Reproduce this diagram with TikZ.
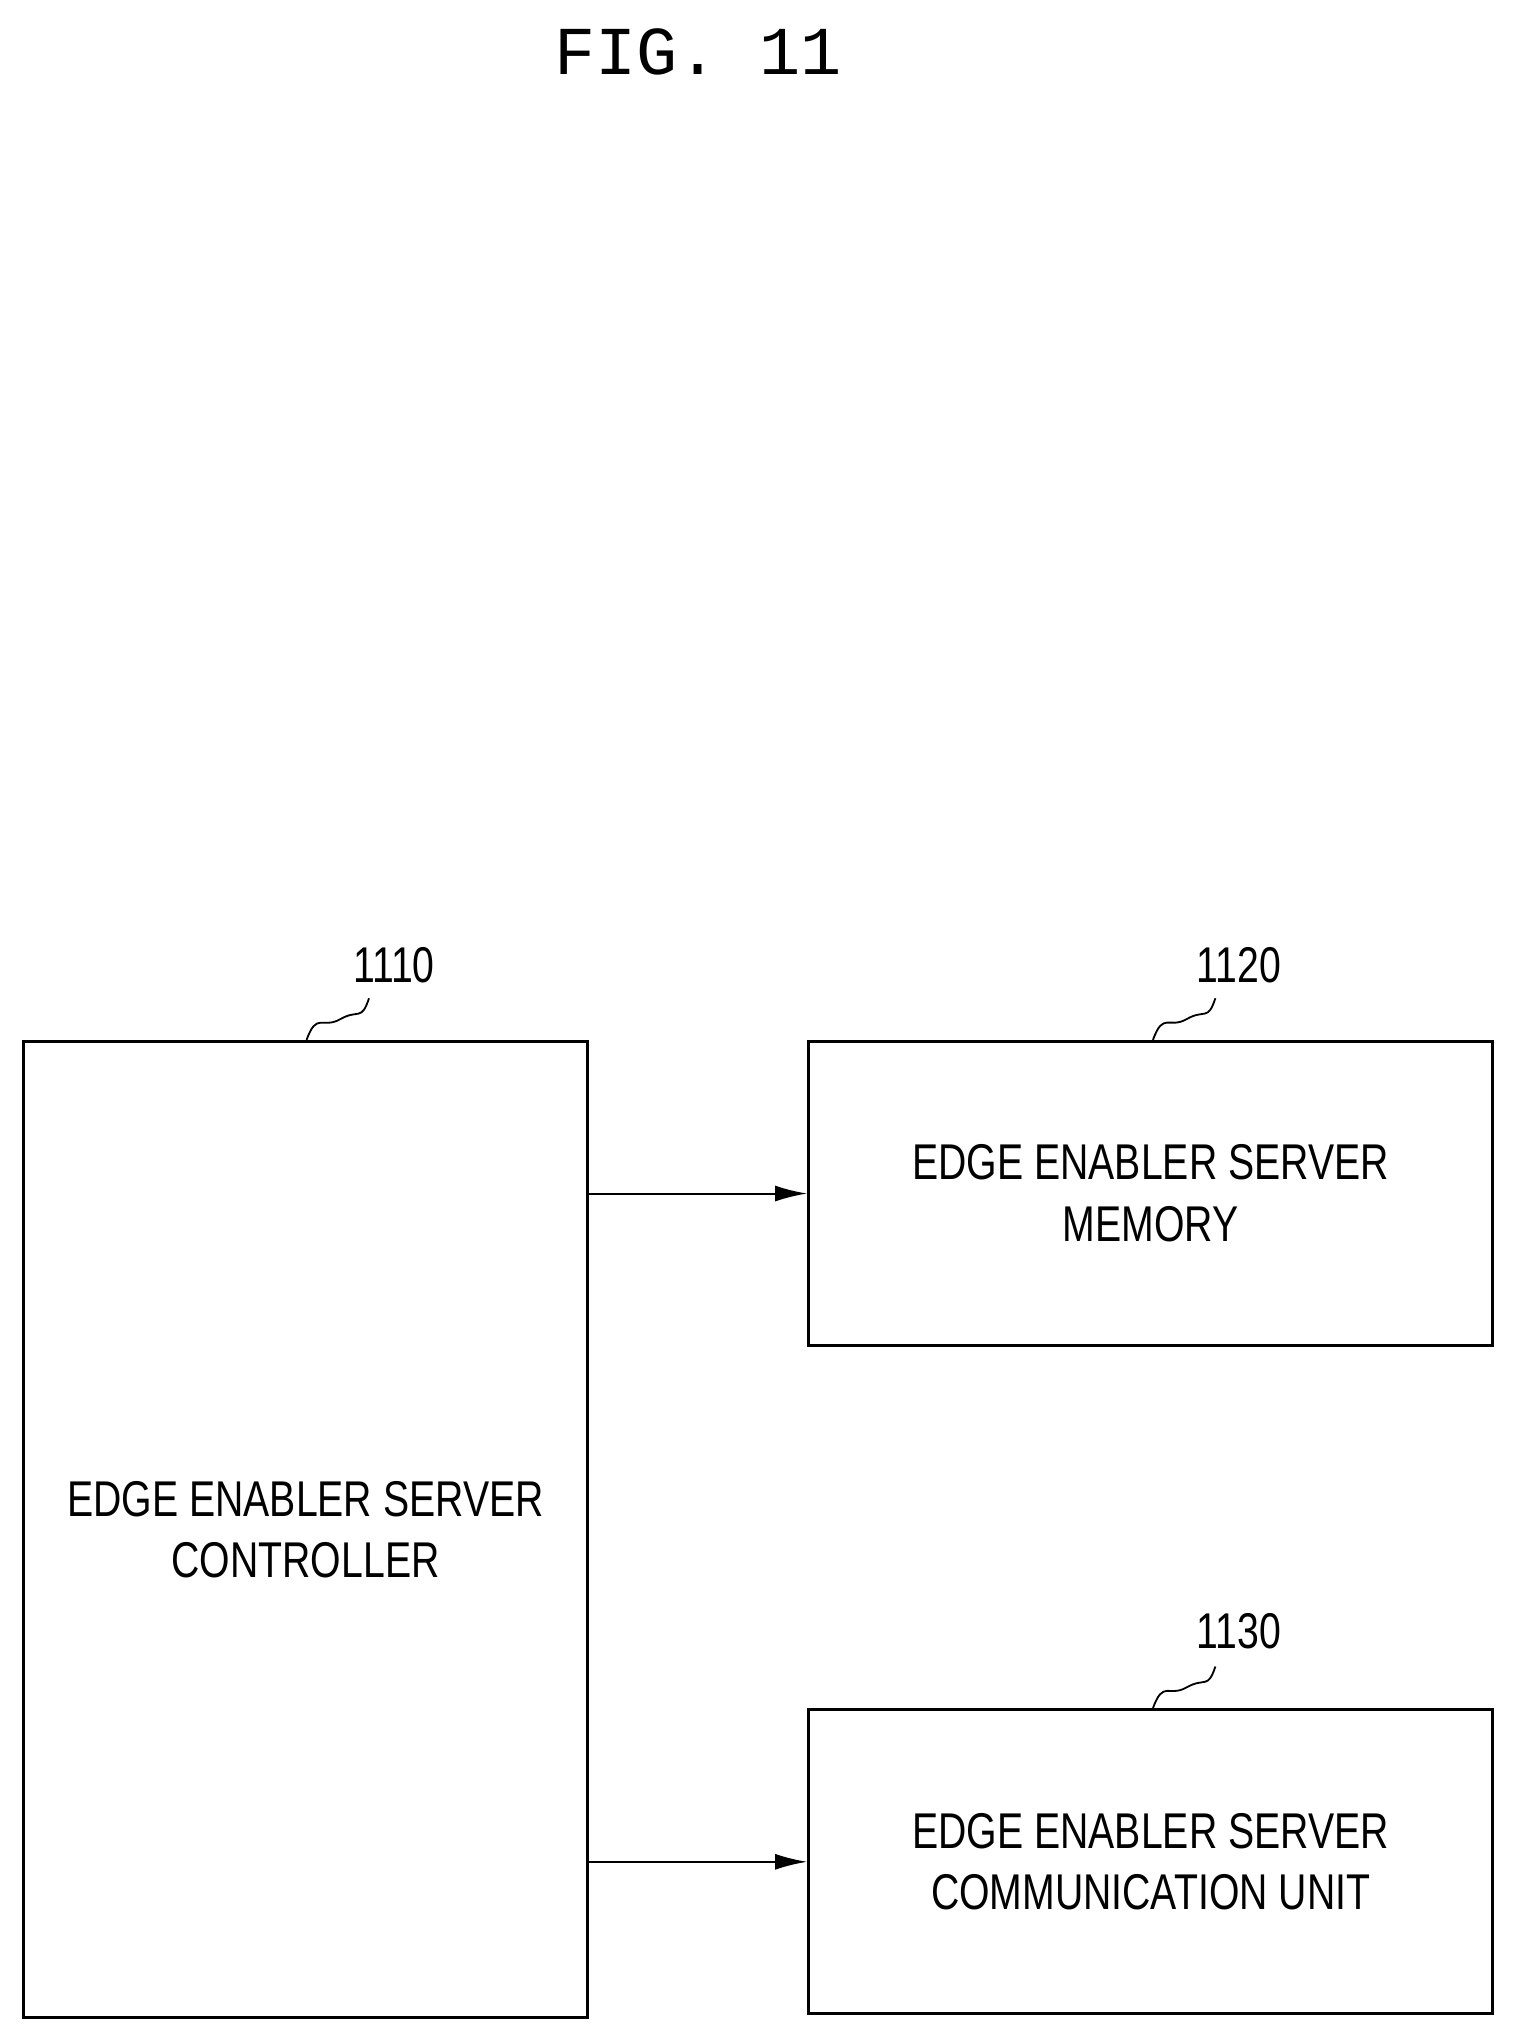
\documentclass[tikz,border=0pt]{standalone}
\usepackage{fontspec}
\setmainfont{Liberation Sans}
\newfontfamily\titlefont{Liberation Mono}
\usetikzlibrary{positioning,arrows.meta}
\begin{document}
\begin{tikzpicture}[
            >=latex,
            x=0.02cm, y=-0.02cm,
            font=\fontsize{22}{27}\selectfont,
            blockbox/.style={draw, line width=1.4pt, rectangle, inner sep=0pt, align=center},
            refnum/.style={inner sep=2pt},
            leader/.style={line width=0.8pt},
            link/.style={->, line width=0.9pt, >={Latex[length=14pt,width=7pt]}}
        ]
		\useasboundingbox (0,0) rectangle (1164,1566);
		
		%Title
		\node[font=\titlefont\fontsize{30}{34}\selectfont] (title) at (537,40) {FIG. 11};
		
		%Blocks
		\node[blockbox, minimum width=8.68cm, minimum height=15.02cm] (ctrl) at (235,1176.5) {\scalebox{0.78}[1]{EDGE ENABLER SERVER}\\\scalebox{0.78}[1]{CONTROLLER}};
		\node[blockbox, minimum width=10.52cm, minimum height=4.68cm] (mem) at (885,918) {\scalebox{0.78}[1]{EDGE ENABLER SERVER}\\\scalebox{0.78}[1]{MEMORY}};
		\node[blockbox, minimum width=10.52cm, minimum height=4.68cm] (comm) at (885,1432) {\scalebox{0.78}[1]{EDGE ENABLER SERVER}\\\scalebox{0.78}[1]{COMMUNICATION UNIT}};
		
		%Reference numerals
		\node[refnum] (n1110) at (303,742) {\scalebox{0.78}[1]{1110}};
		\node[refnum] (n1120) at (953,742) {\scalebox{0.78}[1]{1120}};
		\node[refnum] (n1130) at (953,1255) {\scalebox{0.78}[1]{1130}};
		\draw[leader] (ctrl.north west) ++(219,0) .. controls +(8,-22) and +(-14,8) .. ++(26,-16) .. controls +(14,-8) and +(-6,18) .. ++(22,-16);
		\draw[leader] (mem.north west) ++(266,0) .. controls +(8,-22) and +(-14,8) .. ++(26,-16) .. controls +(14,-8) and +(-6,18) .. ++(22,-16);
		\draw[leader] (comm.north west) ++(266,0) .. controls +(8,-22) and +(-14,8) .. ++(26,-16) .. controls +(14,-8) and +(-6,18) .. ++(22,-16);
		
		%Arrows
		\draw[link] (ctrl.east |- mem.west) -- (mem.west);
		\draw[link] (ctrl.east |- comm.west) -- (comm.west);
    \end{tikzpicture}
\end{document}
